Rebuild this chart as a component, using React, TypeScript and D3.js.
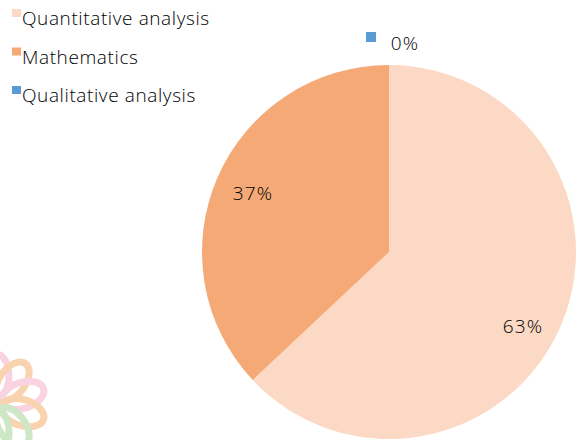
import React from "react";
import * as d3 from "d3";

const categories = ["Quantitative analysis", "Mathematics", "Qualitative analysis"];
const values = [63, 37, 0];
const labels = ["63%", "37%", "0%"];
const colors = ["#FBD9C4", "#F4A976", "#5B9BD5"];

const petalColors = ["#F7A8C8", "#F5A860", "#F7A8C8", "#F5A860", "#9ED08F", "#9ED08F", "#8EC5EE", "#F5A860", "#8EC5EE", "#9ED08F"];

export default function App() {
  const W = 584, H = 440;
  const cx = 389, cy = 252, r = 187;
  const pie = d3.pie<number>().sort(null).value((d) => d)(values);
  const arc = d3.arc<d3.PieArcDatum<number>>().innerRadius(0).outerRadius(r);
  const font = "'Open Sans', 'Noto Sans', sans-serif";
  const labelPos: [number, number][] = [
    [523, 333],
    [253, 200],
    [405, 50],
  ];
  const petals = d3.range(10);
  return (
    <svg width={W} height={H} style={{ position: "absolute", left: 0, top: 0, background: "#fff" }} fontFamily={font}>
      <g transform={`translate(${cx},${cy})`}>
        {pie.map((p, i) => (
          <path key={i} d={arc(p) || ""} fill={colors[i]} />
        ))}
      </g>
      {labels.map((l, i) => (
        <text key={i} x={labelPos[i][0]} y={labelPos[i][1]} fontSize={19} fontWeight={300} letterSpacing={1.2} textAnchor="middle" fill="#000">
          {l}
        </text>
      ))}
      <rect x={366} y={32} width={10} height={10} fill={colors[2]} />
      {categories.map((c, i) => (
        <g key={c} transform={`translate(0,${i * 38.5})`}>
          <rect x={12} y={9} width={9} height={8} fill={colors[i]} />
          <text x={22} y={25} fontSize={19} fontWeight={300} letterSpacing={0.6} fill="#000">
            {c}
          </text>
        </g>
      ))}
      <g transform="translate(-4,404)" opacity={0.5}>
        {petals.map((k) => {
          const deg = (k / 10) * 360;
          return (
            <ellipse key={k} transform={`rotate(${deg}) translate(0,-28)`} cx={0} cy={0} rx={13} ry={22} fill="none" stroke={petalColors[k]} strokeWidth={7} />
          );
        })}
      </g>
    </svg>
  );
}
